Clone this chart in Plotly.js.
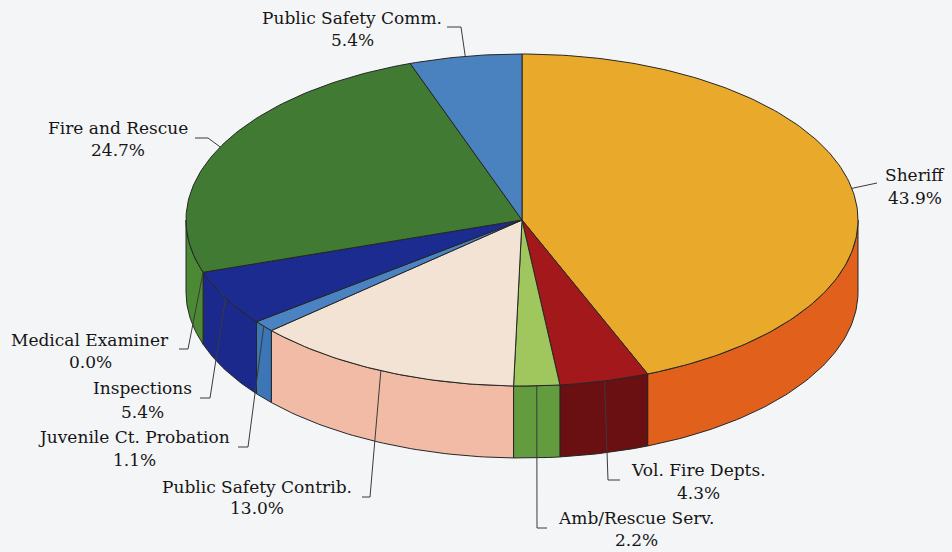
<!DOCTYPE html>
<html><head><meta charset="utf-8">
<script src="https://cdn.plot.ly/plotly-3.0.1.min.js"></script>
<style>html,body{margin:0;padding:0;background:#f4f5f7}</style>
</head><body>
<div id="chart" style="width:952px;height:552px"></div>
<script>
// ---- data ----
const categories = ["Sheriff","Vol. Fire Depts.","Amb/Rescue Serv.","Public Safety Contrib.","Juvenile Ct. Probation","Inspections","Medical Examiner","Fire and Rescue","Public Safety Comm."];
const shares = [43.9, 4.3, 2.2, 13.0, 1.1, 5.4, 0.0, 24.7, 5.4];
const pctLabels = ["43.9%","4.3%","2.2%","13.0%","1.1%","5.4%","0.0%","24.7%","5.4%"];

// ---- styles ----
const topColors  = ["#e9a92b","#a3191b","#a0c65e","#f3e3d4","#4b82c1","#1b2b90","#777777","#417a33","#4a82bf"];
const sideColors = ["#e0601c","#6a1013","#629c3f","#f2bba5","#3c76b6","#1b298c","#777777","#4c8934","#3c76b6"];

// ---- layout (pixel space) ----
const pie = {cx: 522, cy: 220, rx: 336, ry: 166, depth: 72};
const labelPos = [
  {nx: 915, ny: 175, py: 198, lead: [[877,183]]},
  {nx: 698, ny: 470, py: 493, lead: [[620,480],[608,480]]},
  {nx: 636, ny: 518, py: 540, lead: [[547,528],[537,528]]},
  {nx: 257, ny: 487, py: 508, lead: [[362,497],[370,497]]},
  {nx: 134, ny: 437, py: 460, lead: [[238,447],[248,447]]},
  {nx: 142, ny: 388, py: 412, lead: [[200,398],[210,398]]},
  {nx: 90,  ny: 340, py: 362, lead: [[179,349],[188,349]]},
  {nx: 118, ny: 128, py: 150, lead: [[195,138],[208,138]]},
  {nx: 352, ny: 18,  py: 40,  lead: [[447,27],[461,27]]}
];

const total = shares.reduce((a,b)=>a+b,0);
function pt(deg, dz){
  const r = deg*Math.PI/180;
  return [pie.cx + pie.rx*Math.sin(r), pie.cy - pie.ry*Math.cos(r) + dz];
}
function arc(a1, a2, dz){
  const n = Math.max(2, Math.ceil(Math.abs(a2-a1)));
  const out = [];
  for(let i=0;i<=n;i++){ out.push(pt(a1 + (a2-a1)*i/n, dz)); }
  return out;
}

const starts = [], ends = [];
let cum = 0;
shares.forEach(s => { starts.push(cum/total*360); cum += s; ends.push(cum/total*360); });

const sideTraces = [], topTraces = [], leadTraces = [];
const outline = {color: "#262626", width: 1};

shares.forEach((s, i) => {
  if (s <= 0) return;
  const a1 = starts[i], a2 = ends[i];
  const t1 = Math.max(a1, 90), t2 = Math.min(a2, 270);
  if (t2 > t1) {
    const pts = arc(t1, t2, 0).concat(arc(t2, t1, pie.depth));
    pts.push(pts[0]);
    sideTraces.push({type:"scatter", mode:"lines", x: pts.map(p=>p[0]), y: pts.map(p=>p[1]),
      fill:"toself", fillcolor: sideColors[i], line: outline, hoverinfo:"skip"});
  }
  const tp = [[pie.cx, pie.cy]].concat(arc(a1, a2, 0));
  tp.push([pie.cx, pie.cy]);
  topTraces.push({type:"scatter", mode:"lines", x: tp.map(p=>p[0]), y: tp.map(p=>p[1]),
    fill:"toself", fillcolor: topColors[i], line: outline, hoverinfo:"skip"});
});

const annotations = [];
const labelFont = {family: "DejaVu Serif", size: 17, color: "#161616"};
categories.forEach((c, i) => {
  const L = labelPos[i];
  const mid = (starts[i] + ends[i]) / 2;
  const target = pt(mid, 0);
  const pts = L.lead.concat([target]);
  leadTraces.push({type:"scatter", mode:"lines", x: pts.map(p=>p[0]), y: pts.map(p=>p[1]),
    line: {color:"#3a3a3a", width:1}, hoverinfo:"skip"});
  annotations.push({x: L.nx, y: L.ny, xref:"x", yref:"y", text: c, showarrow:false,
    xanchor:"center", yanchor:"middle", font: labelFont});
  annotations.push({x: L.nx, y: L.py, xref:"x", yref:"y", text: pctLabels[i], showarrow:false,
    xanchor:"center", yanchor:"middle", font: labelFont});
});

const layout = {
  width: 952, height: 552,
  margin: {l:0, r:0, t:0, b:0, pad:0},
  paper_bgcolor: "#f4f5f7", plot_bgcolor: "#f4f5f7",
  showlegend: false,
  font: {family: "DejaVu Serif"},
  xaxis: {range:[0,952], visible:false, fixedrange:true},
  yaxis: {range:[552,0], visible:false, fixedrange:true},
  annotations: annotations
};

Plotly.newPlot("chart", sideTraces.concat(topTraces, leadTraces), layout, {displayModeBar:false, staticPlot:true});
</script>
</body></html>
